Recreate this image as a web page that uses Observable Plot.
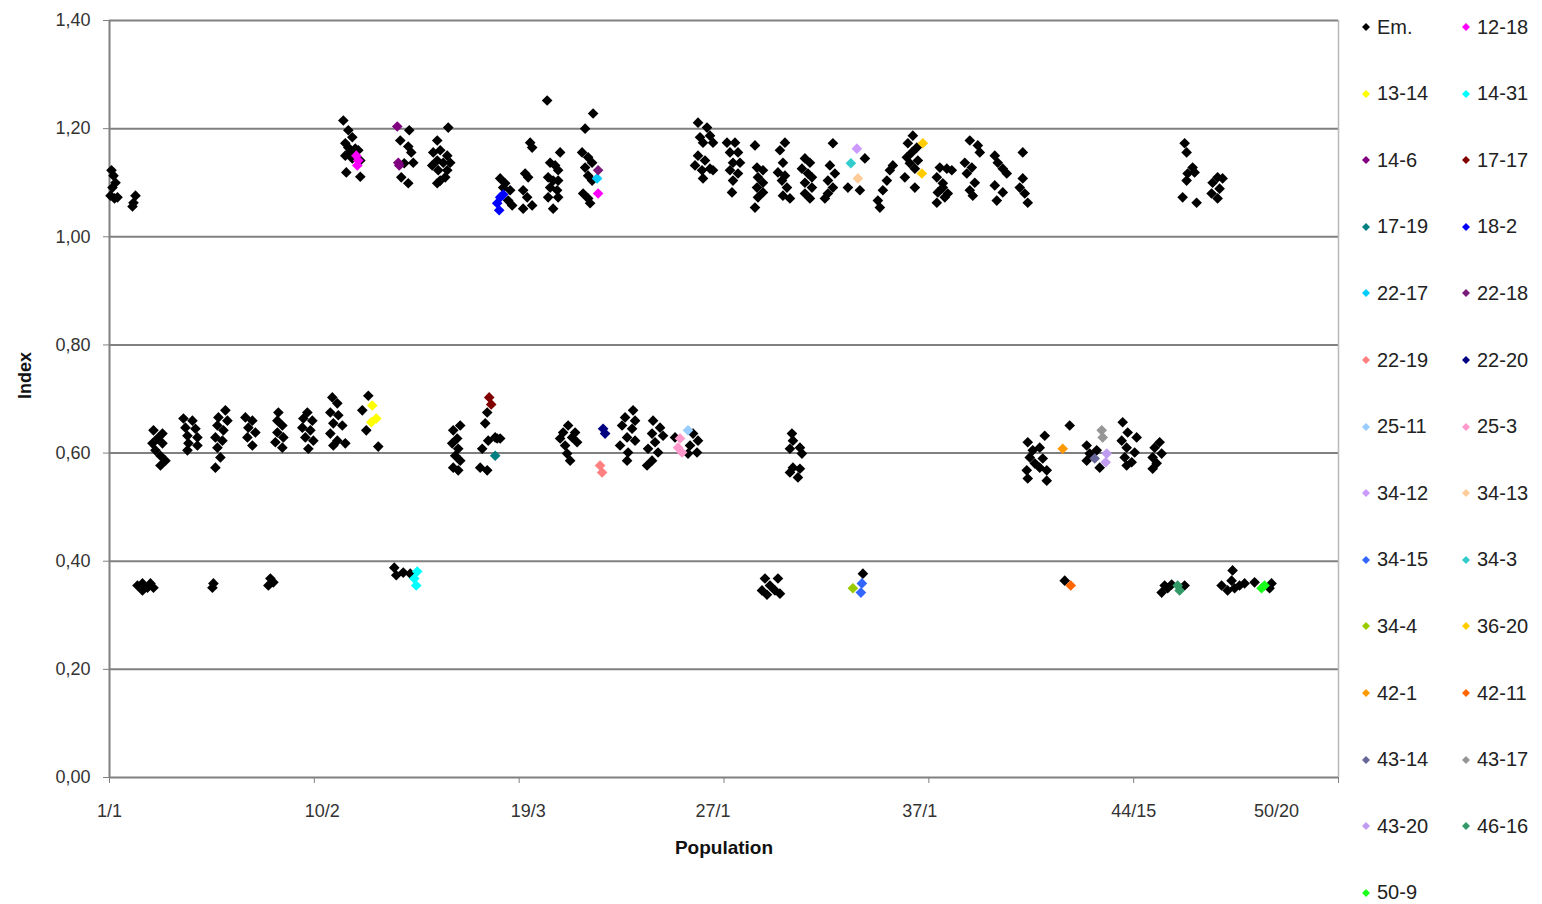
<!DOCTYPE html>
<html><head><meta charset="utf-8">
<script src="https://cdn.jsdelivr.net/npm/d3@7"></script>
<script src="https://cdn.jsdelivr.net/npm/@observablehq/plot@0.6"></script>
<style>
body{margin:0;background:#fff;}
#wrap{position:relative;width:1542px;height:904px;overflow:hidden;font-family:"Liberation Sans",Arial,sans-serif;background:#fff;}
#chart{position:absolute;left:0;top:0;}
.item{position:absolute;display:flex;align-items:center;height:24px;font-size:20px;color:#222;white-space:nowrap;}
.item svg{margin-right:6px;}
</style></head><body><div id="wrap"><div id="chart"></div><div id="legend"></div></div>
<script>
const seriesNames = ["Em.","12-18","13-14","14-31","14-6","17-17","17-19","18-2","22-17","22-18","22-19","22-20","25-11","25-3","34-12","34-13","34-15","34-3","34-4","36-20","42-1","42-11","43-14","43-17","43-20","46-16","50-9"];
const seriesColors = ["#000000","#ff00ff","#ffff00","#00ffff","#800080","#800000","#008080","#0000ff","#00ccff","#7a1a7a","#ff8080","#000080","#99ccff","#ff99cc","#cc99ff","#ffcc99","#3366ff","#33cccc","#99cc00","#ffcc00","#ff9900","#ff6600","#666699","#969696","#c09cf0","#339966","#1aff1a"];

const yTicks = [0,0.2,0.4,0.6,0.8,1.0,1.2,1.4];
const xTickPos = [0,205,410,615,820,1025,1230];
const xLabels = ["1/1","10/2","19/3","27/1","37/1","44/15","50/20"];
const xLabelPos = [0,213,419,604,811,1025,1168];

// Em. series: [individual position, index]
const emTop = [
[4,1.113],[6,1.100],[3,1.091],[1,1.076],[8,1.073],[5,1.071],[2,1.123],
[26,1.076],[24,1.063],[23,1.056],
[234,1.215],[239,1.197],[243,1.184],[236,1.173],[246,1.163],[241,1.156],[249,1.160],[236,1.150],[243,1.145],[251,1.141],[237,1.119],[251,1.111],[239,1.165],
[300,1.197],[291,1.178],[299,1.167],[302,1.156],[304,1.137],[295,1.136],[292,1.110],[299,1.099],
[339,1.202],[328,1.178],[324,1.156],[331,1.160],[338,1.150],[328,1.141],[334,1.137],[341,1.137],[323,1.132],[329,1.123],[338,1.123],[331,1.104],[328,1.099],[336,1.110],
[391,1.108],[396,1.099],[401,1.086],[399,1.067],[403,1.058],[394,1.091],
[421,1.174],[423,1.165],[416,1.117],[419,1.110],[414,1.086],[418,1.073],[414,1.052],[423,1.058],
[438,1.252],
[451,1.156],[441,1.137],[446,1.132],[449,1.123],[439,1.110],[444,1.104],[449,1.104],[441,1.091],[448,1.086],[439,1.073],[449,1.073],[444,1.052],
[484,1.228],[476,1.200],[473,1.156],[479,1.147],[483,1.137],[476,1.128],[479,1.113],[483,1.104],[474,1.080],[479,1.071],[481,1.062],
[589,1.211],[598,1.202],[591,1.184],[601,1.187],[594,1.174],[604,1.174],[589,1.150],[596,1.141],[586,1.132],[601,1.126],[593,1.123],[604,1.123],[594,1.108],
[618,1.174],[626,1.174],[621,1.156],[629,1.156],[624,1.137],[631,1.137],[621,1.123],[629,1.117],[624,1.104],[623,1.082],
[646,1.169],[648,1.128],[654,1.123],[649,1.110],[654,1.100],[648,1.091],[654,1.082],[649,1.073],[646,1.054],
[676,1.174],[671,1.160],[674,1.137],[669,1.119],[676,1.113],[673,1.104],[678,1.091],[674,1.076],[681,1.071],
[696,1.145],[701,1.137],[693,1.126],[699,1.117],[703,1.110],[696,1.100],[703,1.091],[696,1.080],[701,1.071],
[724,1.173],[721,1.132],[726,1.117],[719,1.104],[724,1.091],[719,1.080],[716,1.071],
[756,1.145],[739,1.091],[751,1.086],
[771,1.054],[769,1.067],[774,1.086],[778,1.104],[781,1.123],[784,1.132],
[804,1.187],[799,1.173],[808,1.165],[803,1.156],[798,1.147],[809,1.141],[801,1.136],[806,1.126],[796,1.110],[806,1.091],
[831,1.128],[828,1.110],[834,1.099],[829,1.082],[836,1.073],[828,1.063],[838,1.126],[843,1.123],[834,1.091],[839,1.080],
[861,1.178],[869,1.169],[871,1.156],[856,1.137],[863,1.128],[858,1.117],[866,1.100],[861,1.086],[864,1.076],
[886,1.150],[889,1.137],[894,1.126],[898,1.117],[886,1.095],[894,1.082],[888,1.067],
[914,1.156],[914,1.108],[911,1.091],[916,1.080],[919,1.063],
[1076,1.173],[1078,1.156],[1084,1.128],[1079,1.117],[1086,1.119],[1078,1.104],[1074,1.073],[1088,1.063],
[1109,1.110],[1104,1.100],[1111,1.089],[1103,1.080],[1109,1.071],[1114,1.108]
];
const emMid = [
[44,0.642],[53,0.636],[48,0.627],[43,0.618],[53,0.618],[46,0.605],[51,0.595],[56,0.586],[51,0.577],
[74,0.664],[83,0.660],[76,0.647],[86,0.645],[78,0.632],[88,0.629],[79,0.618],[88,0.614],[78,0.605],
[116,0.679],[109,0.666],[118,0.660],[108,0.651],[114,0.642],[106,0.629],[113,0.623],[108,0.610],[111,0.592],[106,0.573],
[136,0.666],[143,0.660],[139,0.647],[146,0.638],[138,0.629],[143,0.614],
[169,0.675],[168,0.660],[173,0.651],[168,0.638],[174,0.629],[166,0.620],[173,0.610],
[198,0.675],[194,0.664],[203,0.660],[193,0.647],[201,0.642],[196,0.629],[204,0.623],[199,0.608],
[223,0.703],[228,0.692],[221,0.675],[229,0.670],[224,0.655],[233,0.651],[221,0.636],[228,0.623],[236,0.618],[224,0.614],
[259,0.706],[253,0.679],[257,0.642],[269,0.612],
[351,0.651],[344,0.642],[348,0.627],[343,0.618],[349,0.608],[346,0.595],[351,0.586],[344,0.573],[349,0.568],
[378,0.675],[376,0.655],[386,0.629],[379,0.623],[373,0.608],[388,0.627],[371,0.573],[378,0.568],[391,0.627],
[459,0.651],[454,0.638],[466,0.638],[451,0.627],[463,0.629],[456,0.614],[468,0.620],[458,0.599],[461,0.586],
[524,0.679],[516,0.666],[526,0.660],[513,0.651],[523,0.645],[518,0.629],[526,0.623],[511,0.614],[519,0.601],[518,0.586],
[544,0.660],[551,0.647],[543,0.636],[554,0.632],[546,0.620],[539,0.608],[549,0.601],[543,0.586],[538,0.577],
[566,0.629],[584,0.636],[589,0.623],[581,0.614],[588,0.601],[579,0.599],
[683,0.636],[684,0.623],[691,0.610],[681,0.608],[693,0.599],[684,0.573],[691,0.571],[681,0.564],[689,0.555],
[919,0.620],[936,0.632],[924,0.605],[931,0.610],[921,0.592],[934,0.590],[926,0.581],[931,0.573],[918,0.568],[938,0.568],[919,0.553],[938,0.549],[961,0.651],
[978,0.614],[981,0.599],[988,0.605],[978,0.586],[991,0.573],
[1014,0.657],[1019,0.638],[1013,0.623],[1028,0.629],[1018,0.610],[1026,0.601],[1016,0.592],[1023,0.583],[1018,0.577],
[1051,0.620],[1046,0.610],[1053,0.599],[1044,0.592],[1048,0.581],[1044,0.571]
];
const emLow = [
[28,0.355],[33,0.359],[38,0.351],[41,0.359],[33,0.346],[44,0.351],
[103,0.351],[104,0.359],
[161,0.368],[164,0.361],[159,0.355],
[285,0.388],[287,0.374],[294,0.379],[301,0.377],
[656,0.368],[669,0.368],[661,0.355],[653,0.346],[666,0.346],[658,0.338],[671,0.340],
[754,0.377],
[956,0.364],
[1053,0.342],[1059,0.350],[1063,0.357],[1056,0.355],[1076,0.355],
[1113,0.355],[1119,0.346],[1123,0.364],[1126,0.350],[1131,0.355],[1124,0.383],[1136,0.359],[1146,0.361],[1163,0.359],[1161,0.350]
];
// Marked series: [series, position, index]
const marked = [
["12-18",247,1.150],["12-18",249,1.141],["12-18",248,1.132],["12-18",489,1.080],
["13-14",263,0.688],["13-14",267,0.664],["13-14",262,0.657],
["14-31",308,0.381],["14-31",305,0.368],["14-31",307,0.355],
["14-6",288,1.204],["14-6",289,1.137],["14-6",290,1.132],
["17-17",380,0.703],["17-17",382,0.690],
["17-19",386,0.595],
["18-2",391,1.073],["18-2",388,1.062],["18-2",390,1.049],["18-2",394,1.078],
["22-17",488,1.108],
["22-18",489,1.123],
["22-19",491,0.577],["22-19",493,0.564],
["22-20",494,0.645],["22-20",496,0.636],
["25-11",579,0.642],
["25-3",571,0.627],["25-3",569,0.610],["25-3",573,0.601],
["34-12",748,1.163],
["34-13",749,1.108],
["34-15",753,0.359],["34-15",752,0.342],
["34-3",742,1.136],
["34-4",744,0.350],
["36-20",814,1.173],["36-20",813,1.117],
["42-1",954,0.608],
["42-11",962,0.355],
["43-14",986,0.590],
["43-17",993,0.642],["43-17",994,0.629],
["43-20",998,0.599],["43-20",997,0.583],
["46-16",1069,0.355],["46-16",1071,0.346],
["50-9",1153,0.350],["50-9",1156,0.355]
];

const rows = [...emTop, ...emMid, ...emLow].map(([x, y]) => ({s: "Em.", x, y}))
  .concat(marked.map(([s, x, y]) => ({s, x, y})));

const chart = Plot.plot({
  width: 1542, height: 904,
  marginLeft: 109, marginRight: 204, marginTop: 20, marginBottom: 127,
  style: {fontFamily: "'Liberation Sans', Arial, sans-serif", fontSize: "18px", background: "white", overflow: "visible"},
  x: {domain: [0, 1230], axis: null},
  y: {domain: [0, 1.4], axis: null},
  color: {domain: seriesNames, range: seriesColors},
  marks: [
    Plot.ruleY(yTicks.filter(d => d > 0), {stroke: "#808080", strokeWidth: 2}),
    Plot.ruleX([1230], {stroke: "#b8b8b8", strokeWidth: 1.5}),
    Plot.ruleY([0], {stroke: "#808080", strokeWidth: 2}),
    Plot.ruleX([0], {stroke: "#808080", strokeWidth: 2}),
    Plot.axisY({ticks: yTicks, tickFormat: d => d.toFixed(2).replace(".", ","), tickSize: 6, tickPadding: 13, label: null, stroke: "#808080", fill: "#333", fontSize: 18}),
    Plot.axisX({ticks: xTickPos, tickFormat: () => "", tickSize: 6, label: null, stroke: "#808080"}),
    Plot.axisX({ticks: xLabelPos, tickFormat: d => xLabels[xLabelPos.indexOf(d)], tickSize: 0, tickPadding: 27, label: null, fill: "#333", fontSize: 18}),
    Plot.text(["Index"], {text: d => d, frameAnchor: "left", dx: -84, rotate: -90, fontWeight: "bold", fontSize: 18, fill: "#111"}),
    Plot.text(["Population"], {text: d => d, frameAnchor: "bottom", dy: 76, fontWeight: "bold", fontSize: 19, fill: "#111"}),
    Plot.dot(rows, {x: "x", y: "y", fill: "s", symbol: "diamond2", r: 4.8})
  ]
});
document.getElementById("chart").appendChild(chart);

const legend = document.getElementById("legend");
seriesNames.forEach((name, i) => {
  const col = i % 2, row = Math.floor(i / 2);
  const div = document.createElement("div");
  div.className = "item";
  div.style.left = (col === 0 ? 1361 : 1461) + "px";
  div.style.top = (27 + row * 66.6 - 12) + "px";
  div.innerHTML = `<svg width="10" height="10"><polygon points="5,1 9,5 5,9 1,5" fill="${seriesColors[i]}"/></svg>${name}`;
  legend.appendChild(div);
});
</script></body></html>
